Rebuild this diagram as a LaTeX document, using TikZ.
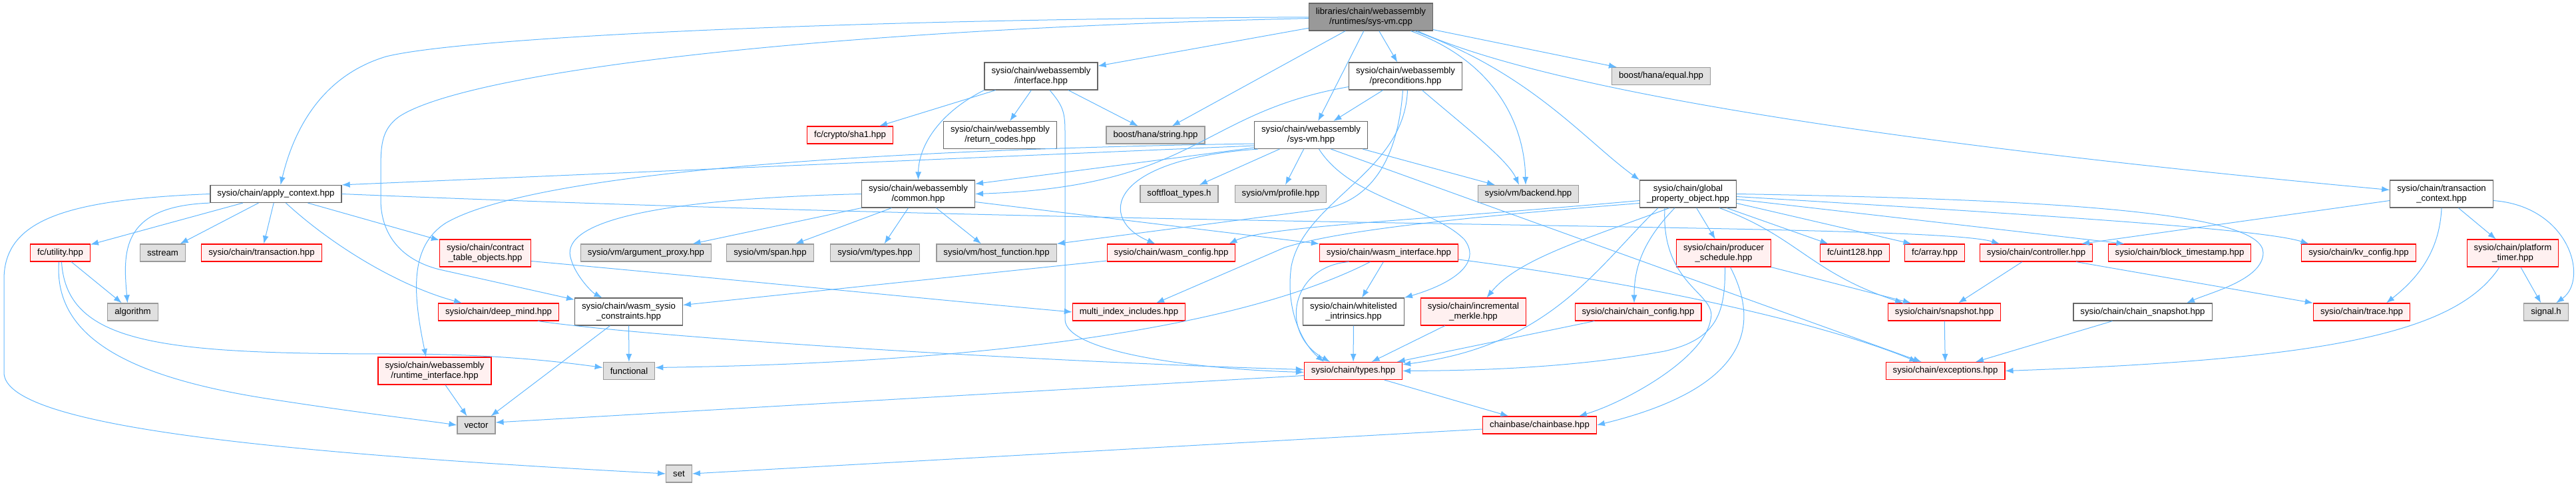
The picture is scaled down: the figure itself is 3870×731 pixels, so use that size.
\documentclass[tikz,border=0pt]{standalone}
\usepackage{fontspec}
\setmainfont{Liberation Sans}
\usepackage{tikz}
\usetikzlibrary{arrows.meta}
\definecolor{edgeblue}{HTML}{63B8FF}
\definecolor{rootfill}{HTML}{999999}
\definecolor{rootborder}{HTML}{666666}
\definecolor{whiteborder}{HTML}{666666}
\definecolor{grayfill}{HTML}{E0E0E0}
\definecolor{grayborder}{HTML}{999999}
\definecolor{redfill}{HTML}{FFF0F0}
\definecolor{redborder}{HTML}{FF0000}
\tikzset{
    block/.style={rectangle, draw, line width=1.2pt, font=\fontsize{13.2pt}{15pt}\selectfont, align=center, inner xsep=10.5pt, inner ysep=2pt, minimum height=26pt},
    block_root/.style={block, draw=rootborder, fill=rootfill},
    block_white/.style={block, draw=whiteborder, fill=white},
    block_gray/.style={block, draw=grayborder, fill=grayfill},
    block_red/.style={block, draw=redborder, fill=redfill},
    arrow/.style={-{Latex[length=12pt, width=9pt]}, draw=edgeblue, line width=1pt}
}
\begin{document}
\begin{tikzpicture}[x=1pt, y=-1pt]
\useasboundingbox (0,0) rectangle (3870,731);
% rank 0 and 1
\node (cpp) [block_root, minimum height=41pt] at (2059.5,25.5) {libraries/chain/webassembly\\/runtimes/sys-vm.cpp};
\node (iface) [block_white, minimum height=41pt] at (1564,114.5) {sysio/chain/webassembly\\/interface.hpp};
\node (precond) [block_white, minimum height=41pt] at (2111.5,114.5) {sysio/chain/webassembly\\/preconditions.hpp};
\node (hana_eq) [block_gray] at (2495.5,114.5) {boost/hana/equal.hpp};
% rank 2
\node (sha1) [block_red] at (1277,203) {fc/crypto/sha1.hpp};
\node (retcodes) [block_white, minimum height=41pt] at (1502.5,203) {sysio/chain/webassembly\\/return\_codes.hpp};
\node (hana_str) [block_gray] at (1736,203) {boost/hana/string.hpp};
\node (sysvm) [block_white, minimum height=41pt] at (1969.5,203) {sysio/chain/webassembly\\/sys-vm.hpp};
% rank 3
\node (applyctx) [block_white] at (414.5,291.5) {sysio/chain/apply\_context.hpp};
\node (common) [block_white, minimum height=41pt] at (1379.5,291.5) {sysio/chain/webassembly\\/common.hpp};
\node (softfloat) [block_gray] at (1771.5,291.5) {softfloat\_types.h};
\node (profile) [block_gray] at (1924,291.5) {sysio/vm/profile.hpp};
\node (backend) [block_gray] at (2296,291.5) {sysio/vm/backend.hpp};
\node (gpo) [block_white, minimum height=41pt] at (2536,291.5) {sysio/chain/global\\\_property\_object.hpp};
\node (trxctx) [block_white, minimum height=41pt] at (3668,291.5) {sysio/chain/transaction\\\_context.hpp};
% rank 4
\node (utility) [block_red] at (90.5,380) {fc/utility.hpp};
\node (sstream) [block_gray] at (244.5,380) {sstream};
\node (trx) [block_red] at (393,380) {sysio/chain/transaction.hpp};
\node (ctobj) [block_red, minimum height=41pt] at (729,380.5) {sysio/chain/contract\\\_table\_objects.hpp};
\node (argproxy) [block_gray] at (970.5,380) {sysio/vm/argument\_proxy.hpp};
\node (span) [block_gray] at (1157,380) {sysio/vm/span.hpp};
\node (vmtypes) [block_gray] at (1314.5,380) {sysio/vm/types.hpp};
\node (hostfn) [block_gray] at (1497,380) {sysio/vm/host\_function.hpp};
\node (wasmcfg) [block_red] at (1759.5,380) {sysio/chain/wasm\_config.hpp};
\node (wasmif) [block_red] at (2086.5,380) {sysio/chain/wasm\_interface.hpp};
\node (prodsched) [block_red, minimum height=41pt] at (2589.5,380.5) {sysio/chain/producer\\\_schedule.hpp};
\node (uint128) [block_red] at (2786.5,380) {fc/uint128.hpp};
\node (fcarray) [block_red] at (2906.5,380) {fc/array.hpp};
\node (controller) [block_red] at (3059,380) {sysio/chain/controller.hpp};
\node (blockts) [block_red] at (3274.5,380) {sysio/chain/block\_timestamp.hpp};
\node (kvcfg) [block_red] at (3543.5,380) {sysio/chain/kv\_config.hpp};
\node (ptimer) [block_red, minimum height=41pt] at (3775,380.5) {sysio/chain/platform\\\_timer.hpp};
% rank 5
\node (algorithm) [block_gray] at (199.5,469) {algorithm};
\node (deepmind) [block_red] at (749,469) {sysio/chain/deep\_mind.hpp};
\node (constraints) [block_white, minimum height=41pt] at (944.5,468.5) {sysio/chain/wasm\_sysio\\\_constraints.hpp};
\node (multiidx) [block_red] at (1696,469) {multi\_index\_includes.hpp};
\node (whitelist) [block_white, minimum height=41pt] at (2033.5,468.5) {sysio/chain/whitelisted\\\_intrinsics.hpp};
\node (merkle) [block_red, minimum height=41pt] at (2213.5,468.5) {sysio/chain/incremental\\\_merkle.hpp};
\node (chaincfg) [block_red] at (2461,469) {sysio/chain/chain\_config.hpp};
\node (snapshot) [block_red] at (2921,469) {sysio/chain/snapshot.hpp};
\node (chainsnap) [block_white] at (3219,469) {sysio/chain/chain\_snapshot.hpp};
\node (trace) [block_red] at (3548,469) {sysio/chain/trace.hpp};
\node (signal) [block_gray] at (3825,469) {signal.h};
% rank 6 and below
\node (rtiface) [block_red, minimum height=41pt] at (653,557.5) {sysio/chain/webassembly\\/runtime\_interface.hpp};
\node (functional) [block_gray] at (945,557.5) {functional};
\node (types) [block_red] at (2033,557.5) {sysio/chain/types.hpp};
\node (exceptions) [block_red] at (2922.5,557.5) {sysio/chain/exceptions.hpp};
\node (vector) [block_gray] at (715.5,639) {vector};
\node (chainbase) [block_red] at (2313,639) {chainbase/chainbase.hpp};
\node (set) [block_gray] at (1020,712) {set};

% sys-vm.cpp
\draw [arrow] (cpp) .. controls (1300,28) and (700,55) .. (580,85) .. controls (480,115) and (440,200) .. ([xshift=7pt]applyctx.north);
\draw [arrow] (cpp) .. controls (1200,45) and (700,110) .. (600,175) .. controls (572,195) and (572,220) .. (572,260) -- (572,300) .. controls (572,350) and (600,390) .. (660,405) -- ([yshift=-3pt]constraints.north west);
\draw [arrow] (cpp) -- (iface);
\draw [arrow] (cpp) -- (hana_str);
\draw [arrow] (cpp) -- (precond);
\draw [arrow] (cpp) -- (sysvm);
\draw [arrow] ([xshift=60pt]cpp.south) .. controls (2240,90) and (2290,180) .. ([xshift=-4pt]backend.north);
\draw [arrow] (cpp) -- (hana_eq);
\draw [arrow] ([xshift=66pt]cpp.south) .. controls (2300,110) and (2380,210) .. (gpo.north west);
\draw [arrow] ([xshift=70pt]cpp.south) .. controls (2380,160) and (3100,240) .. ([yshift=6pt]trxctx.west);

% interface.hpp
\draw [arrow] (iface) -- (sha1);
\draw [arrow] (iface) -- (retcodes);
\draw [arrow] (iface) -- (hana_str);
\draw [arrow] (iface.south west) .. controls (1410,170) and (1380,220) .. (common.north);
\draw [arrow] ([xshift=13pt]iface.south) .. controls (1598,160) and (1600,170) .. (1600,200) -- (1600,480) .. controls (1600,530) and (1800,555) .. ([yshift=-2pt]types.west);

% preconditions.hpp
\draw [arrow] (precond) -- (sysvm);
\draw [arrow] ([xshift=25pt]precond.south) .. controls (2200,190) and (2265,240) .. ([xshift=-14pt]backend.north);
\draw [arrow] ([yshift=-16pt]precond.west) .. controls (1800,170) and (1800,280) .. (common.east);
\draw [arrow] ([xshift=3pt]precond.south) .. controls (2110,260) and (1960,300) .. (1940,400) .. controls (1930,470) and (1960,520) .. ([xshift=-44pt]types.north);
\draw [arrow] ([xshift=-4pt]precond.south) .. controls (2100,240) and (2060,300) .. (1990,314) -- (hostfn.north east);

% sys-vm.hpp
\draw [arrow] ([yshift=-16pt]sysvm.west) -- (applyctx.north east);
\draw [arrow] ([yshift=-13pt]sysvm.west) .. controls (1300,225) and (800,260) .. (670,335) .. controls (615,370) and (620,440) .. ([xshift=-13pt]rtiface.north);
\draw [arrow] ([yshift=-19pt]sysvm.west) -- ([yshift=-6pt]common.north east);
\draw [arrow] ([xshift=6pt]sysvm.south west) .. controls (1660,240) and (1650,330) .. ([xshift=-24pt]wasmcfg.north);
\draw [arrow] (sysvm) -- (softfloat);
\draw [arrow] (sysvm) -- (profile);
\draw [arrow] (sysvm) -- (backend);
\draw [arrow] ([xshift=30pt]sysvm.south) -- ([xshift=-36pt]exceptions.north);
\draw [arrow] ([xshift=12pt]sysvm.south) .. controls (2030,300) and (2150,310) .. (2200,360) .. controls (2230,400) and (2170,430) .. (whitelist.north east);

% apply_context.hpp
\draw [arrow] (applyctx) -- (utility);
\draw [arrow] (applyctx) -- (sstream);
\draw [arrow] (applyctx) -- (trx);
\draw [arrow] (applyctx.south west) .. controls (180,310) and (185,380) .. ([xshift=-8pt]algorithm.north);
\draw [arrow] ([xshift=15pt]applyctx.south) .. controls (500,370) and (600,430) .. ([xshift=-55pt]deepmind.north);
\draw [arrow] (applyctx) -- (ctobj);
\draw [arrow] (applyctx.east) .. controls (1800,345) and (2900,335) .. ([xshift=-55pt]controller.north);
\draw [arrow] (applyctx.west) .. controls (100,300) and (6,330) .. (6,420) -- (6,560) .. controls (6,640) and (400,680) .. (set.west);

% common.hpp
\draw [arrow] (common.west) .. controls (950,300) and (840,340) .. (858,390) .. controls (865,415) and (890,440) .. ([xshift=-40pt]constraints.north);
\draw [arrow] (common.south west) -- ([xshift=70pt]argproxy.north);
\draw [arrow] ([xshift=-40pt]common.south) -- ([xshift=38pt]span.north);
\draw [arrow] ([xshift=-15pt]common.south) -- ([xshift=14pt]vmtypes.north);
\draw [arrow] ([xshift=27pt]common.south) -- ([xshift=-23pt]hostfn.north);
\draw [arrow] ([yshift=-12pt]common.east) -- (wasmif.north west);

% wasm_interface.hpp
\draw [arrow] (wasmif) -- (whitelist);
\draw [arrow] ([xshift=-60pt]wasmif.south) .. controls (1940,400) and (1920,500) .. ([xshift=-35pt]types.north);
\draw [arrow] ([xshift=-28pt]wasmif.south) .. controls (1870,490) and (1500,545) .. ([yshift=5pt]functional.east);
\draw [arrow] ([yshift=-10pt]wasmif.east) .. controls (2500,430) and (2750,490) .. ([xshift=-42pt]exceptions.north);

% global_property_object.hpp
\draw [arrow] ([yshift=-10pt]gpo.west) .. controls (2150,330) and (1900,340) .. ([xshift=-10pt]wasmcfg.north east);
\draw [arrow] ([yshift=-14pt]gpo.west) .. controls (2150,330) and (2000,350) .. (1930,372) -- ([xshift=41pt]multiidx.north);
\draw [arrow] ([xshift=-28pt]gpo.south) .. controls (2380,360) and (2280,390) .. ([xshift=20pt]merkle.north);
\draw [arrow] ([xshift=-45pt]gpo.south) .. controls (2400,400) and (2330,520) .. ([yshift=-4pt]types.north east);
\draw [arrow] ([xshift=-20pt]gpo.south) .. controls (2470,360) and (2455,400) .. ([xshift=-6pt]chaincfg.north);
\draw [arrow] ([xshift=-35pt]gpo.south) .. controls (2495,430) and (2580,440) .. (2570,480) .. controls (2560,540) and (2440,605) .. ([xshift=59pt]chainbase.north);
\draw [arrow] (gpo) -- (prodsched);
\draw [arrow] ([xshift=47pt]gpo.south) .. controls (2700,355) and (2720,410) .. ([xshift=-62pt]snapshot.north);
\draw [arrow] ([xshift=58pt]gpo.south) -- ([xshift=-40pt]uint128.north);
\draw [arrow] ([yshift=-14pt]gpo.east) -- ([xshift=-35pt]fcarray.north);
\draw [arrow] ([yshift=-8pt]gpo.east) -- ([xshift=-83pt]blockts.north);
\draw [arrow] ([yshift=-4pt]gpo.east) .. controls (3100,325) and (3400,345) .. ([xshift=-75pt]kvcfg.north);
\draw [arrow] (gpo.east) .. controls (3100,300) and (3400,320) .. (3400,380) .. controls (3400,420) and (3320,440) .. ([xshift=66pt]chainsnap.north);

% transaction_context.hpp
\draw [arrow] ([yshift=-10pt]trxctx.west) -- ([xshift=68pt]controller.north);
\draw [arrow] (trxctx) -- (ptimer);
\draw [arrow] ([yshift=-10pt]trxctx.east) .. controls (3860,310) and (3890,420) .. ([xshift=15pt]signal.north);
\draw [arrow] (trxctx.south) .. controls (3665,380) and (3630,420) .. ([xshift=37pt]trace.north);

% the rest
\draw [arrow] (controller) -- (snapshot);
\draw [arrow] ([xshift=60pt]controller.south) -- (trace.north west);
\draw [arrow] (prodsched.south east) -- ([xshift=-50pt]snapshot.north);
\draw [arrow] ([xshift=2pt]prodsched.south) .. controls (2592,470) and (2580,510) .. (2500,528) .. controls (2350,555) and (2200,557) .. (types.east);
\draw [arrow] ([xshift=10pt]prodsched.south) .. controls (2640,480) and (2640,580) .. (chainbase.east);
\draw [arrow] (snapshot) -- (exceptions);
\draw [arrow] (chainsnap) -- (exceptions);
\draw [arrow] ([xshift=-20pt]ptimer.south) .. controls (3690,500) and (3500,540) .. (exceptions.east);
\draw [arrow] (ptimer) -- (signal);
\draw [arrow] (whitelist) -- (types);
\draw [arrow] (merkle) -- (types);
\draw [arrow] (chaincfg) -- (types);
\draw [arrow] (types) -- (chainbase);
\draw [arrow] ([yshift=-7pt]types.west) -- ([yshift=4pt]vector.east);
\draw [arrow] ([yshift=-6pt]chainbase.west) -- (set.east);
\draw [arrow] (constraints) -- (functional);
\draw [arrow] ([xshift=-28pt]constraints.south) -- ([xshift=22pt]vector.north);
\draw [arrow] ([xshift=16pt]rtiface.south) -- ([xshift=-14pt]vector.north);
\draw [arrow] (utility) -- (algorithm);
\draw [arrow] ([xshift=2pt]utility.south) .. controls (100,520) and (250,532) .. (600,532) .. controls (750,532) and (850,545) .. ([yshift=5pt]functional.west);
\draw [arrow] ([xshift=-2pt]utility.south) .. controls (80,510) and (200,570) .. (420,602) .. controls (550,622) and (640,632) .. (vector.west);
\draw [arrow] ([yshift=-12pt]ctobj.east) .. controls (1100,420) and (1400,450) .. (multiidx.west);
\draw [arrow] ([yshift=-12pt]wasmcfg.west) -- ([yshift=10pt]constraints.east);
\draw [arrow] ([xshift=59pt]deepmind.south) .. controls (1000,510) and (1600,545) .. ([yshift=2pt]types.west);
\end{tikzpicture}
\end{document}
